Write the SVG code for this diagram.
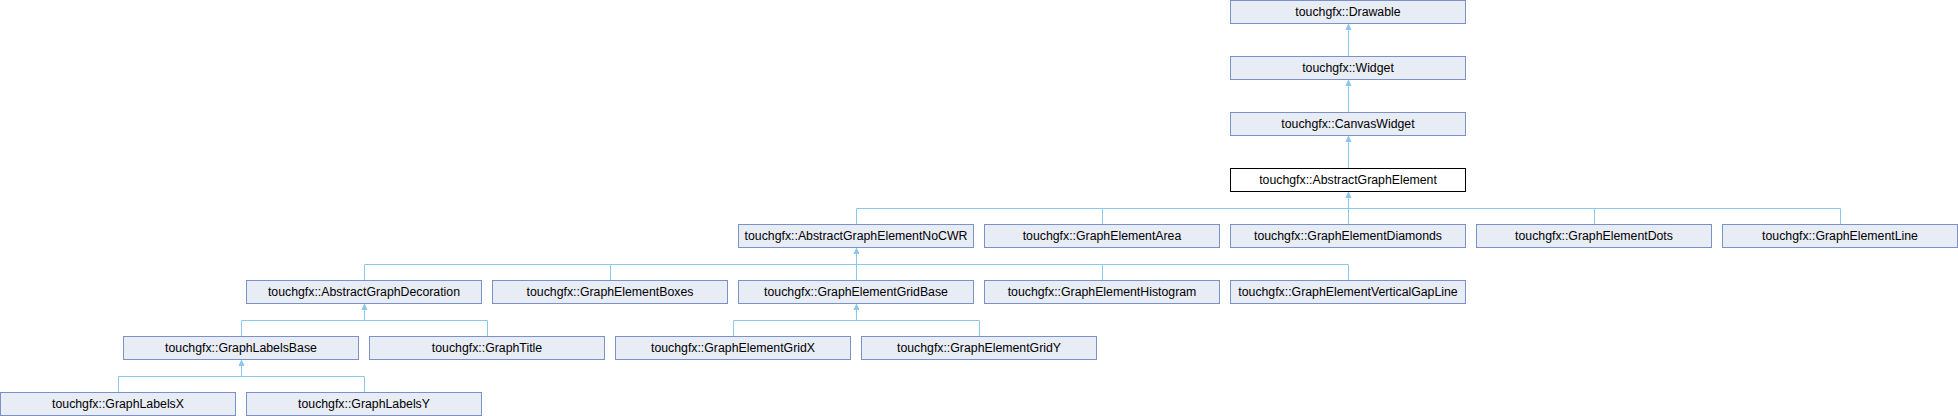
<svg xmlns="http://www.w3.org/2000/svg" width="1958" height="416" viewBox="0 0 1958 416">
<style>
.n rect{fill:#E8ECF5;stroke:#7B92C6;stroke-width:1}
.n.h rect{fill:#FFFFFF;stroke:#000000}
.n text{font-family:"Liberation Sans",Arial,sans-serif;font-size:12.3px;fill:#000;text-anchor:middle}
.e path{fill:none;stroke:#8CC8EA;stroke-width:1}
.e polygon{fill:#8CC8EA;stroke:#8CC8EA;stroke-width:1}
</style>
<rect x="0" y="0" width="1958" height="416" fill="#FFFFFF"/>
<g id="connectors" class="e">
<path d="M1348.5 23.5V56.5"/>
<polygon points="1348.5,24.5 1346,29.5 1351,29.5"/>
<path d="M1348.5 79.5V112.5"/>
<polygon points="1348.5,80.5 1346,85.5 1351,85.5"/>
<path d="M1348.5 135.5V168.5"/>
<polygon points="1348.5,136.5 1346,141.5 1351,141.5"/>
<path d="M1348.5 191.5V224.5M856.5 208.5H1840.5M856.5 208.5V224.5M1102.5 208.5V224.5M1594.5 208.5V224.5M1840.5 208.5V224.5"/>
<polygon points="1348.5,192.5 1346,197.5 1351,197.5"/>
<path d="M856.5 247.5V280.5M364.5 264.5H1348.5M364.5 264.5V280.5M610.5 264.5V280.5M1102.5 264.5V280.5M1348.5 264.5V280.5"/>
<polygon points="856.5,248.5 854,253.5 859,253.5"/>
<path d="M364.5 303.5V320.5M241.5 320.5H487.5M241.5 320.5V336.5M487.5 320.5V336.5"/>
<polygon points="364.5,304.5 362,309.5 367,309.5"/>
<path d="M856.5 303.5V320.5M733.5 320.5H979.5M733.5 320.5V336.5M979.5 320.5V336.5"/>
<polygon points="856.5,304.5 854,309.5 859,309.5"/>
<path d="M241.5 359.5V376.5M118.5 376.5H364.5M118.5 376.5V392.5M364.5 376.5V392.5"/>
<polygon points="241.5,360.5 239,365.5 244,365.5"/>
</g>
<g id="Drawable" class="n"><rect x="1230.5" y="0.5" width="235" height="23"/><text x="1348" y="16">touchgfx::Drawable</text></g>
<g id="Widget" class="n"><rect x="1230.5" y="56.5" width="235" height="23"/><text x="1348" y="72">touchgfx::Widget</text></g>
<g id="CanvasWidget" class="n"><rect x="1230.5" y="112.5" width="235" height="23"/><text x="1348" y="128">touchgfx::CanvasWidget</text></g>
<g id="AbstractGraphElement" class="n h"><rect x="1230.5" y="168.5" width="235" height="23"/><text x="1348" y="184">touchgfx::AbstractGraphElement</text></g>
<g id="AbstractGraphElementNoCWR" class="n"><rect x="738.5" y="224.5" width="235" height="23"/><text x="856" y="240">touchgfx::AbstractGraphElementNoCWR</text></g>
<g id="GraphElementArea" class="n"><rect x="984.5" y="224.5" width="235" height="23"/><text x="1102" y="240">touchgfx::GraphElementArea</text></g>
<g id="GraphElementDiamonds" class="n"><rect x="1230.5" y="224.5" width="235" height="23"/><text x="1348" y="240">touchgfx::GraphElementDiamonds</text></g>
<g id="GraphElementDots" class="n"><rect x="1476.5" y="224.5" width="235" height="23"/><text x="1594" y="240">touchgfx::GraphElementDots</text></g>
<g id="GraphElementLine" class="n"><rect x="1722.5" y="224.5" width="235" height="23"/><text x="1840" y="240">touchgfx::GraphElementLine</text></g>
<g id="AbstractGraphDecoration" class="n"><rect x="246.5" y="280.5" width="235" height="23"/><text x="364" y="296">touchgfx::AbstractGraphDecoration</text></g>
<g id="GraphElementBoxes" class="n"><rect x="492.5" y="280.5" width="235" height="23"/><text x="610" y="296">touchgfx::GraphElementBoxes</text></g>
<g id="GraphElementGridBase" class="n"><rect x="738.5" y="280.5" width="235" height="23"/><text x="856" y="296">touchgfx::GraphElementGridBase</text></g>
<g id="GraphElementHistogram" class="n"><rect x="984.5" y="280.5" width="235" height="23"/><text x="1102" y="296">touchgfx::GraphElementHistogram</text></g>
<g id="GraphElementVerticalGapLine" class="n"><rect x="1230.5" y="280.5" width="235" height="23"/><text x="1348" y="296">touchgfx::GraphElementVerticalGapLine</text></g>
<g id="GraphLabelsBase" class="n"><rect x="123.5" y="336.5" width="235" height="23"/><text x="241" y="352">touchgfx::GraphLabelsBase</text></g>
<g id="GraphTitle" class="n"><rect x="369.5" y="336.5" width="235" height="23"/><text x="487" y="352">touchgfx::GraphTitle</text></g>
<g id="GraphElementGridX" class="n"><rect x="615.5" y="336.5" width="235" height="23"/><text x="733" y="352">touchgfx::GraphElementGridX</text></g>
<g id="GraphElementGridY" class="n"><rect x="861.5" y="336.5" width="235" height="23"/><text x="979" y="352">touchgfx::GraphElementGridY</text></g>
<g id="GraphLabelsX" class="n"><rect x="0.5" y="392.5" width="235" height="23"/><text x="118" y="408">touchgfx::GraphLabelsX</text></g>
<g id="GraphLabelsY" class="n"><rect x="246.5" y="392.5" width="235" height="23"/><text x="364" y="408">touchgfx::GraphLabelsY</text></g>
</svg>
